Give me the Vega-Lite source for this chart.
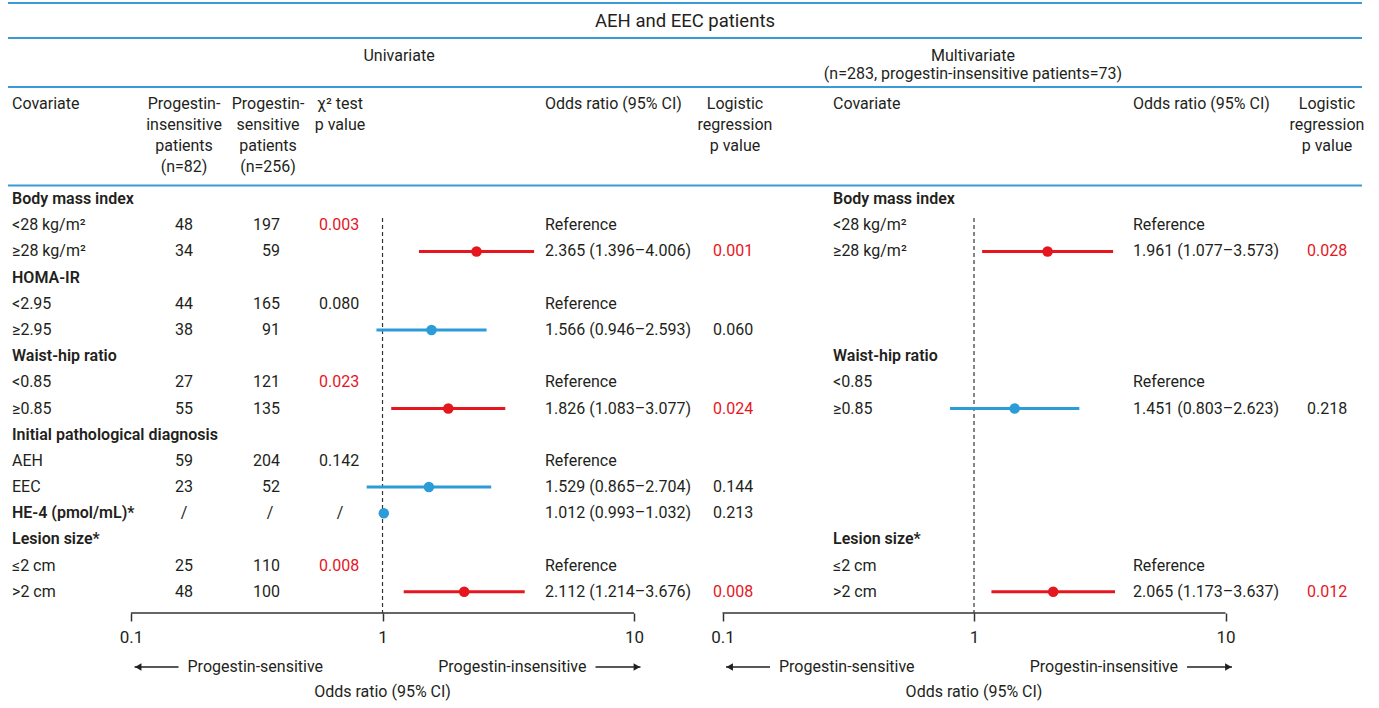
{
  "$schema": "https://vega.github.io/schema/vega-lite/v6.json",
  "padding": 0,
  "background": "white",
  "spacing": 0,
  "bounds": "flush",
  "config": {
    "view": {"stroke": null},
    "concat": {"spacing": 0},
    "text": {"font": "Roboto", "fontSize": 16, "color": "#231f20"}
  },
  "datasets": {
    "rows": [
      {"panel": "uni", "row": 1, "label": "Body mass index", "bold": true},
      {"panel": "uni", "row": 2, "label": "<28 kg/m²", "bold": false, "ins": "48", "sen": "197", "chi": "0.003", "chiSig": true, "orText": "Reference"},
      {"panel": "uni", "row": 3, "label": "≥28 kg/m²", "bold": false, "ins": "34", "sen": "59", "or": 2.365, "lo": 1.396, "hi": 4.006, "orText": "2.365 (1.396–4.006)", "p": "0.001", "pSig": true},
      {"panel": "uni", "row": 4, "label": "HOMA-IR", "bold": true},
      {"panel": "uni", "row": 5, "label": "<2.95", "bold": false, "ins": "44", "sen": "165", "chi": "0.080", "chiSig": false, "orText": "Reference"},
      {"panel": "uni", "row": 6, "label": "≥2.95", "bold": false, "ins": "38", "sen": "91", "or": 1.566, "lo": 0.946, "hi": 2.593, "orText": "1.566 (0.946–2.593)", "p": "0.060", "pSig": false},
      {"panel": "uni", "row": 7, "label": "Waist-hip ratio", "bold": true},
      {"panel": "uni", "row": 8, "label": "<0.85", "bold": false, "ins": "27", "sen": "121", "chi": "0.023", "chiSig": true, "orText": "Reference"},
      {"panel": "uni", "row": 9, "label": "≥0.85", "bold": false, "ins": "55", "sen": "135", "or": 1.826, "lo": 1.083, "hi": 3.077, "orText": "1.826 (1.083–3.077)", "p": "0.024", "pSig": true},
      {"panel": "uni", "row": 10, "label": "Initial pathological diagnosis", "bold": true},
      {"panel": "uni", "row": 11, "label": "AEH", "bold": false, "ins": "59", "sen": "204", "chi": "0.142", "chiSig": false, "orText": "Reference"},
      {"panel": "uni", "row": 12, "label": "EEC", "bold": false, "ins": "23", "sen": "52", "or": 1.529, "lo": 0.865, "hi": 2.704, "orText": "1.529 (0.865–2.704)", "p": "0.144", "pSig": false},
      {"panel": "uni", "row": 13, "label": "HE-4 (pmol/mL)*", "bold": true, "ins": "/", "sen": "/", "chi": "/", "chiSig": false, "or": 1.012, "lo": 0.993, "hi": 1.032, "orText": "1.012 (0.993–1.032)", "p": "0.213", "pSig": false},
      {"panel": "uni", "row": 14, "label": "Lesion size*", "bold": true},
      {"panel": "uni", "row": 15, "label": "≤2 cm", "bold": false, "ins": "25", "sen": "110", "chi": "0.008", "chiSig": true, "orText": "Reference"},
      {"panel": "uni", "row": 16, "label": ">2 cm", "bold": false, "ins": "48", "sen": "100", "or": 2.112, "lo": 1.214, "hi": 3.676, "orText": "2.112 (1.214–3.676)", "p": "0.008", "pSig": true},
      {"panel": "multi", "row": 1, "label": "Body mass index", "bold": true},
      {"panel": "multi", "row": 2, "label": "<28 kg/m²", "bold": false, "orText": "Reference"},
      {"panel": "multi", "row": 3, "label": "≥28 kg/m²", "bold": false, "or": 1.961, "lo": 1.077, "hi": 3.573, "orText": "1.961 (1.077–3.573)", "p": "0.028", "pSig": true},
      {"panel": "multi", "row": 7, "label": "Waist-hip ratio", "bold": true},
      {"panel": "multi", "row": 8, "label": "<0.85", "bold": false, "orText": "Reference"},
      {"panel": "multi", "row": 9, "label": "≥0.85", "bold": false, "or": 1.451, "lo": 0.803, "hi": 2.623, "orText": "1.451 (0.803–2.623)", "p": "0.218", "pSig": false},
      {"panel": "multi", "row": 14, "label": "Lesion size*", "bold": true},
      {"panel": "multi", "row": 15, "label": "≤2 cm", "bold": false, "orText": "Reference"},
      {"panel": "multi", "row": 16, "label": ">2 cm", "bold": false, "or": 2.065, "lo": 1.173, "hi": 3.637, "orText": "2.065 (1.173–3.637)", "p": "0.012", "pSig": true}
    ]
  },
  "hconcat": [
    {
      "width": 700,
      "height": 613,
      "data": {"name": "rows"},
      "transform": [{"filter": "datum.panel === 'uni'"}],
      "layer": [
        {"data": {"values": [{}]}, "mark": {"type": "rule", "stroke": "#3a9ad6", "strokeWidth": 2},
         "encoding": {"x": {"datum": 0.032429, "scale": {"type": "log", "domain": [0.030131, 18.297], "nice": false}}, "x2": {"datum": 7846.5}, "y": {"datum": -6.4905, "scale": {"domain": [-6.605, 16.8098], "reverse": true, "nice": false, "zero": false}, "axis": null}}},
        {"data": {"values": [{}]}, "mark": {"type": "rule", "stroke": "#3a9ad6", "strokeWidth": 2},
         "encoding": {"x": {"datum": 0.032429}, "x2": {"datum": 7846.5}, "y": {"datum": -5.1535, "axis": null}}},
        {"data": {"values": [{}]}, "mark": {"type": "rule", "stroke": "#3a9ad6", "strokeWidth": 2},
         "encoding": {"x": {"datum": 0.032429}, "x2": {"datum": 7846.5}, "y": {"datum": -3.2819, "axis": null}}},
        {"data": {"values": [{}]}, "mark": {"type": "rule", "stroke": "#3a9ad6", "strokeWidth": 2},
         "encoding": {"x": {"datum": 0.032429}, "x2": {"datum": 7846.5}, "y": {"datum": 0.4805, "axis": null}}},
        {"data": {"values": [{}]}, "mark": {"type": "text", "align": "center", "baseline": "middle", "fontSize": 18.5},
         "encoding": {"x": {"datum": 15.951}, "y": {"datum": -5.8067, "axis": null}, "text": {"value": "AEH and EEC patients"}}},
        {"data": {"values": [{}]}, "mark": {"type": "text", "align": "center", "baseline": "middle"},
         "encoding": {"x": {"datum": 1.1632}, "y": {"datum": -4.4469, "axis": null}, "text": {"value": "Univariate"}}},
        {"data": {"values": [{}]}, "mark": {"type": "text", "align": "left", "baseline": "top"},
         "encoding": {"x": {"datum": 0.033637}, "y": {"datum": -2.9232, "axis": null}, "text": {"value": "Covariate"}}},
        {"data": {"values": [{}]}, "mark": {"type": "text", "align": "center", "baseline": "top", "lineBreak": "\n", "lineHeight": 20.9},
         "encoding": {"x": {"datum": 0.16245}, "y": {"datum": -2.9232, "axis": null}, "text": {"value": "Progestin-\ninsensitive\npatients\n(n=82)"}}},
        {"data": {"values": [{}]}, "mark": {"type": "text", "align": "center", "baseline": "top", "lineBreak": "\n", "lineHeight": 20.9},
         "encoding": {"x": {"datum": 0.35053}, "y": {"datum": -2.9232, "axis": null}, "text": {"value": "Progestin-\nsensitive\npatients\n(n=256)"}}},
        {"data": {"values": [{}]}, "mark": {"type": "text", "align": "center", "baseline": "top", "lineBreak": "\n", "lineHeight": 20.9},
         "encoding": {"x": {"datum": 0.67766}, "y": {"datum": -2.9232, "axis": null}, "text": {"value": "χ² test\np value"}}},
        {"data": {"values": [{}]}, "mark": {"type": "text", "align": "left", "baseline": "top"},
         "encoding": {"x": {"datum": 4.4271}, "y": {"datum": -2.9232, "axis": null}, "text": {"value": "Odds ratio (95% CI)"}}},
        {"data": {"values": [{}]}, "mark": {"type": "text", "align": "center", "baseline": "top", "lineBreak": "\n", "lineHeight": 20.9},
         "encoding": {"x": {"datum": 25.211}, "y": {"datum": -2.9232, "axis": null}, "text": {"value": "Logistic\nregression\np value"}}},
        {"data": {"values": [{}]}, "mark": {"type": "rule", "stroke": "#333333", "strokeWidth": 1.2, "strokeDash": [4, 3]},
         "encoding": {"x": {"datum": 1}, "y": {"datum": 1.7219, "axis": null}, "y2": {"datum": 16.8098}}},
        {"data": {"values": [{}]}, "mark": {"type": "rule", "stroke": "#333333", "strokeWidth": 1.5},
         "encoding": {"x": {"datum": 0.1}, "x2": {"datum": 10}, "y": {"datum": 16.8098, "axis": null}}},
        {"transform": [{"filter": "isValid(datum.or)"}],
         "mark": {"type": "rule", "strokeWidth": 3},
         "encoding": {
           "x": {"field": "lo", "type": "quantitative", "axis": {"values": [0.1, 1, 10], "format": "~g", "domain": false, "grid": false, "ticks": true, "tickSize": 8, "tickWidth": 1.5, "tickColor": "#333333", "labelFontSize": 17, "labelFont": "Roboto", "labelColor": "#231f20", "labelPadding": 8, "labelFlush": false, "title": null}},
           "x2": {"field": "hi"},
           "y": {"field": "row", "type": "quantitative", "axis": null},
           "color": {"condition": {"test": "datum.pSig", "value": "#e5161e"}, "value": "#2b9cd8"}}},
        {"transform": [{"filter": "isValid(datum.or)"}],
         "mark": {"type": "circle", "size": 110, "opacity": 1},
         "encoding": {
           "x": {"field": "or", "type": "quantitative", "axis": {"values": [0.1, 1, 10], "format": "~g", "domain": false, "grid": false, "ticks": true, "tickSize": 8, "tickWidth": 1.5, "tickColor": "#333333", "labelFontSize": 17, "labelFont": "Roboto", "labelColor": "#231f20", "labelPadding": 8, "labelFlush": false, "title": null}},
           "y": {"field": "row", "type": "quantitative", "axis": null},
           "color": {"condition": {"test": "datum.pSig", "value": "#e5161e"}, "value": "#2b9cd8"}}},
        {"transform": [{"filter": "datum.bold"}],
         "mark": {"type": "text", "align": "left", "baseline": "middle", "fontWeight": 600},
         "encoding": {"x": {"datum": 0.033637}, "y": {"field": "row", "type": "quantitative", "axis": null}, "text": {"field": "label", "type": "nominal"}}},
        {"transform": [{"filter": "!datum.bold"}],
         "mark": {"type": "text", "align": "left", "baseline": "middle"},
         "encoding": {"x": {"datum": 0.033637}, "y": {"field": "row", "type": "quantitative", "axis": null}, "text": {"field": "label", "type": "nominal"}}},
        {"transform": [{"filter": "isValid(datum.ins)"}],
         "mark": {"type": "text", "align": "center", "baseline": "middle"},
         "encoding": {"x": {"datum": 0.16245}, "y": {"field": "row", "type": "quantitative", "axis": null}, "text": {"field": "ins", "type": "nominal"}}},
        {"transform": [{"filter": "isValid(datum.sen) && datum.sen !== '/'"}],
         "mark": {"type": "text", "align": "right", "baseline": "middle"},
         "encoding": {"x": {"datum": 0.39125}, "y": {"field": "row", "type": "quantitative", "axis": null}, "text": {"field": "sen", "type": "nominal"}}},
        {"transform": [{"filter": "datum.sen === '/'"}],
         "mark": {"type": "text", "align": "center", "baseline": "middle"},
         "encoding": {"x": {"datum": 0.35701}, "y": {"field": "row", "type": "quantitative", "axis": null}, "text": {"field": "sen", "type": "nominal"}}},
        {"transform": [{"filter": "isValid(datum.chi) && datum.chi !== '/'"}],
         "mark": {"type": "text", "align": "left", "baseline": "middle"},
         "encoding": {"x": {"datum": 0.55912}, "y": {"field": "row", "type": "quantitative", "axis": null}, "text": {"field": "chi", "type": "nominal"},
           "color": {"condition": {"test": "datum.chiSig", "value": "#e5161e"}, "value": "#231f20"}}},
        {"transform": [{"filter": "datum.chi === '/'"}],
         "mark": {"type": "text", "align": "center", "baseline": "middle"},
         "encoding": {"x": {"datum": 0.67766}, "y": {"field": "row", "type": "quantitative", "axis": null}, "text": {"field": "chi", "type": "nominal"}}},
        {"transform": [{"filter": "isValid(datum.orText)"}],
         "mark": {"type": "text", "align": "left", "baseline": "middle"},
         "encoding": {"x": {"datum": 4.4271}, "y": {"field": "row", "type": "quantitative", "axis": null}, "text": {"field": "orText", "type": "nominal"}}},
        {"transform": [{"filter": "isValid(datum.p)"}],
         "mark": {"type": "text", "align": "left", "baseline": "middle"},
         "encoding": {"x": {"datum": 20.612}, "y": {"field": "row", "type": "quantitative", "axis": null}, "text": {"field": "p", "type": "nominal"},
           "color": {"condition": {"test": "datum.pSig", "value": "#e5161e"}, "value": "#231f20"}}},
        {"data": {"values": [{}]}, "mark": {"type": "rule", "stroke": "#231f20", "strokeWidth": 1.3},
         "encoding": {"x": {"datum": 0.10326}, "x2": {"datum": 0.15448}, "y": {"datum": 18.8724, "axis": null}}},
        {"data": {"values": [{}]}, "mark": {"type": "rule", "stroke": "#231f20", "strokeWidth": 1.3},
         "encoding": {"x": {"datum": 7.0294}, "x2": {"datum": 10.613}, "y": {"datum": 18.8724, "axis": null}}},
        {"data": {"values": [{}]}, "mark": {"type": "point", "shape": "triangle-left", "filled": true, "size": 55, "color": "#231f20", "opacity": 1},
         "encoding": {"x": {"datum": 0.1068}, "y": {"datum": 18.8724, "axis": null}}},
        {"data": {"values": [{}]}, "mark": {"type": "point", "shape": "triangle-right", "filled": true, "size": 55, "color": "#231f20", "opacity": 1},
         "encoding": {"x": {"datum": 10.26}, "y": {"datum": 18.8724, "axis": null}}},
        {"data": {"values": [{}]}, "mark": {"type": "text", "align": "left", "baseline": "middle"},
         "encoding": {"x": {"datum": 0.16774}, "y": {"datum": 18.8724, "axis": null}, "text": {"value": "Progestin-sensitive"}}},
        {"data": {"values": [{}]}, "mark": {"type": "text", "align": "right", "baseline": "middle"},
         "encoding": {"x": {"datum": 6.4733}, "y": {"datum": 18.8724, "axis": null}, "text": {"value": "Progestin-insensitive"}}},
        {"data": {"values": [{}]}, "mark": {"type": "text", "align": "center", "baseline": "middle"},
         "encoding": {"x": {"datum": 1}, "y": {"datum": 19.8274, "axis": null}, "text": {"value": "Odds ratio (95% CI)"}}}
      ]
    },
    {
      "width": 679,
      "height": 613,
      "data": {"name": "rows"},
      "transform": [{"filter": "datum.panel === 'multi'"}],
      "layer": [
        {"data": {"values": [{}]}, "mark": {"type": "text", "align": "center", "baseline": "top", "lineBreak": "\n", "lineHeight": 17.5},
         "encoding": {"x": {"datum": 0.99089, "scale": {"type": "log", "domain": [0.081372, 40.768], "nice": false}}, "y": {"datum": -4.7525, "scale": {"domain": [-6.605, 16.8098], "reverse": true, "nice": false, "zero": false}, "axis": null}, "text": {"value": "Multivariate\n(n=283, progestin-insensitive patients=73)"}}},
        {"data": {"values": [{}]}, "mark": {"type": "text", "align": "left", "baseline": "top"},
         "encoding": {"x": {"datum": 0.27502}, "y": {"datum": -2.9232, "axis": null}, "text": {"value": "Covariate"}}},
        {"data": {"values": [{}]}, "mark": {"type": "text", "align": "left", "baseline": "top"},
         "encoding": {"x": {"datum": 4.2876}, "y": {"datum": -2.9232, "axis": null}, "text": {"value": "Odds ratio (95% CI)"}}},
        {"data": {"values": [{}]}, "mark": {"type": "text", "align": "center", "baseline": "top", "lineBreak": "\n", "lineHeight": 20.9},
         "encoding": {"x": {"datum": 25.327}, "y": {"datum": -2.9232, "axis": null}, "text": {"value": "Logistic\nregression\np value"}}},
        {"data": {"values": [{}]}, "mark": {"type": "rule", "stroke": "#333333", "strokeWidth": 1.2, "strokeDash": [4, 3]},
         "encoding": {"x": {"datum": 1}, "y": {"datum": 1.7219, "axis": null}, "y2": {"datum": 16.8098}}},
        {"data": {"values": [{}]}, "mark": {"type": "rule", "stroke": "#333333", "strokeWidth": 1.5},
         "encoding": {"x": {"datum": 0.1}, "x2": {"datum": 10}, "y": {"datum": 16.8098, "axis": null}}},
        {"transform": [{"filter": "isValid(datum.or)"}],
         "mark": {"type": "rule", "strokeWidth": 3},
         "encoding": {
           "x": {"field": "lo", "type": "quantitative", "axis": {"values": [0.1, 1, 10], "format": "~g", "domain": false, "grid": false, "ticks": true, "tickSize": 8, "tickWidth": 1.5, "tickColor": "#333333", "labelFontSize": 17, "labelFont": "Roboto", "labelColor": "#231f20", "labelPadding": 8, "labelFlush": false, "title": null}},
           "x2": {"field": "hi"},
           "y": {"field": "row", "type": "quantitative", "axis": null},
           "color": {"condition": {"test": "datum.pSig", "value": "#e5161e"}, "value": "#2b9cd8"}}},
        {"transform": [{"filter": "isValid(datum.or)"}],
         "mark": {"type": "circle", "size": 110, "opacity": 1},
         "encoding": {
           "x": {"field": "or", "type": "quantitative", "axis": {"values": [0.1, 1, 10], "format": "~g", "domain": false, "grid": false, "ticks": true, "tickSize": 8, "tickWidth": 1.5, "tickColor": "#333333", "labelFontSize": 17, "labelFont": "Roboto", "labelColor": "#231f20", "labelPadding": 8, "labelFlush": false, "title": null}},
           "y": {"field": "row", "type": "quantitative", "axis": null},
           "color": {"condition": {"test": "datum.pSig", "value": "#e5161e"}, "value": "#2b9cd8"}}},
        {"transform": [{"filter": "datum.bold"}],
         "mark": {"type": "text", "align": "left", "baseline": "middle", "fontWeight": 600},
         "encoding": {"x": {"datum": 0.27502}, "y": {"field": "row", "type": "quantitative", "axis": null}, "text": {"field": "label", "type": "nominal"}}},
        {"transform": [{"filter": "!datum.bold"}],
         "mark": {"type": "text", "align": "left", "baseline": "middle"},
         "encoding": {"x": {"datum": 0.27502}, "y": {"field": "row", "type": "quantitative", "axis": null}, "text": {"field": "label", "type": "nominal"}}},
        {"transform": [{"filter": "isValid(datum.orText)"}],
         "mark": {"type": "text", "align": "left", "baseline": "middle"},
         "encoding": {"x": {"datum": 4.2876}, "y": {"field": "row", "type": "quantitative", "axis": null}, "text": {"field": "orText", "type": "nominal"}}},
        {"transform": [{"filter": "isValid(datum.p)"}],
         "mark": {"type": "text", "align": "left", "baseline": "middle"},
         "encoding": {"x": {"datum": 21.089}, "y": {"field": "row", "type": "quantitative", "axis": null}, "text": {"field": "p", "type": "nominal"},
           "color": {"condition": {"test": "datum.pSig", "value": "#e5161e"}, "value": "#231f20"}}},
        {"data": {"values": [{}]}, "mark": {"type": "rule", "stroke": "#231f20", "strokeWidth": 1.3},
         "encoding": {"x": {"datum": 0.10326}, "x2": {"datum": 0.15448}, "y": {"datum": 18.8724, "axis": null}}},
        {"data": {"values": [{}]}, "mark": {"type": "rule", "stroke": "#231f20", "strokeWidth": 1.3},
         "encoding": {"x": {"datum": 7.0294}, "x2": {"datum": 10.613}, "y": {"datum": 18.8724, "axis": null}}},
        {"data": {"values": [{}]}, "mark": {"type": "point", "shape": "triangle-left", "filled": true, "size": 55, "color": "#231f20", "opacity": 1},
         "encoding": {"x": {"datum": 0.1068}, "y": {"datum": 18.8724, "axis": null}}},
        {"data": {"values": [{}]}, "mark": {"type": "point", "shape": "triangle-right", "filled": true, "size": 55, "color": "#231f20", "opacity": 1},
         "encoding": {"x": {"datum": 10.26}, "y": {"datum": 18.8724, "axis": null}}},
        {"data": {"values": [{}]}, "mark": {"type": "text", "align": "left", "baseline": "middle"},
         "encoding": {"x": {"datum": 0.16774}, "y": {"datum": 18.8724, "axis": null}, "text": {"value": "Progestin-sensitive"}}},
        {"data": {"values": [{}]}, "mark": {"type": "text", "align": "right", "baseline": "middle"},
         "encoding": {"x": {"datum": 6.4733}, "y": {"datum": 18.8724, "axis": null}, "text": {"value": "Progestin-insensitive"}}},
        {"data": {"values": [{}]}, "mark": {"type": "text", "align": "center", "baseline": "middle"},
         "encoding": {"x": {"datum": 1}, "y": {"datum": 19.8274, "axis": null}, "text": {"value": "Odds ratio (95% CI)"}}}
      ]
    }
  ]
}
